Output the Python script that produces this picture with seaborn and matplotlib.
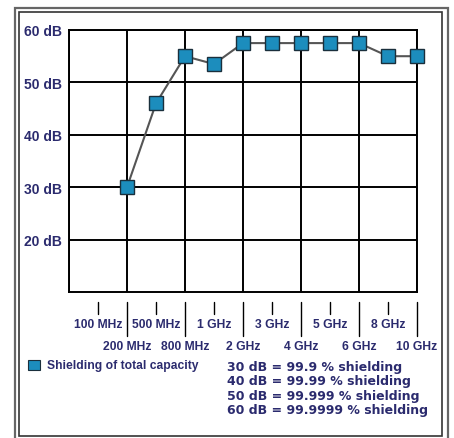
import matplotlib
matplotlib.use("Agg")
import matplotlib.pyplot as plt
import seaborn as sns
import pandas as pd
from matplotlib.patches import Rectangle

# frequency slots along the x axis (slot 0 has no label)
freq_labels = ["", "100 MHz", "200 MHz", "500 MHz", "800 MHz", "1 GHz", "2 GHz",
               "3 GHz", "4 GHz", "5 GHz", "6 GHz", "8 GHz", "10 GHz"]
# measured points: slot index and shielding in dB
point_slots = [2, 3, 4, 5, 6, 7, 8, 9, 10, 11, 12]
shielding_db = [30, 46, 55, 53.5, 57.5, 57.5, 57.5, 57.5, 57.5, 55, 55]
y_ticks = [20, 30, 40, 50, 60]
legend_label = "Shielding of total capacity"
notes = ["30 dB = 99.9 % shielding",
         "40 dB = 99.99 % shielding",
         "50 dB = 99.999 % shielding",
         "60 dB = 99.9999 % shielding"]

navy = "#2b2b6e"
marker_blue = "#1c8dbd"

sns.set_style("white")
plt.rcParams["font.family"] = ["Liberation Sans", "DejaVu Sans"]

fig = plt.figure(figsize=(4.54, 4.39), dpi=100)
ax = fig.add_axes([69 / 454, 1 - 293 / 439, (417 - 69) / 454, (293 - 31) / 439])

df = pd.DataFrame({"slot": point_slots, "db": shielding_db})
sns.lineplot(data=df, x="slot", y="db", ax=ax, color="#555555", lw=1.5,
             marker="s", markersize=9.5, markerfacecolor=marker_blue,
             markeredgecolor="#1a2f3c", markeredgewidth=1.0, zorder=5)
for ln in ax.lines:
    ln.set_clip_on(False)

ax.set_xlim(0, len(freq_labels) - 1)
ax.set_ylim(10, 60)

# grid: horizontal at dB ticks, vertical at every second slot
for v in y_ticks:
    ax.axhline(v, color="black", lw=1.4, zorder=1)
for s in range(0, len(freq_labels), 2):
    ax.axvline(s, color="black", lw=1.4, zorder=1)
for sp in ax.spines.values():
    sp.set_color("black")
    sp.set_linewidth(1.4)

ax.set_xticks([])
ax.set_yticks(y_ticks)
ax.set_yticklabels([f"{v} dB" for v in y_ticks], fontsize=10, fontweight="bold", color=navy)
ax.tick_params(axis="y", length=0, pad=5)
ax.set_xlabel("")
ax.set_ylabel("")

# staggered frequency labels with tick marks below the plot
trans = ax.get_xaxis_transform()
h = 262.0
for i, lab in enumerate(freq_labels):
    if not lab:
        continue
    if i % 2 == 1:
        ax.plot([i, i], [-10 / h, -22 / h], color="black", lw=1.0, transform=trans, clip_on=False)
        ax.text(i, -26 / h, lab, transform=trans, ha="center", va="top",
                fontsize=8.7, fontweight="bold", color=navy)
    else:
        ax.plot([i, i], [-10 / h, -44 / h], color="black", lw=1.0, transform=trans, clip_on=False)
        ax.text(i, -48 / h, lab, transform=trans, ha="center", va="top",
                fontsize=8.7, fontweight="bold", color=navy)

# legend square and text
fig.patches.append(Rectangle((28 / 454, 1 - 371 / 439), 12 / 454, 10 / 439,
                             transform=fig.transFigure, facecolor=marker_blue,
                             edgecolor="#1a2f3c", lw=0.8))
fig.text(47 / 454, 1 - 366 / 439, legend_label, ha="left", va="center",
         fontsize=8.7, fontweight="bold", color=navy)

# dB to percentage notes
for k, line in enumerate(notes):
    fig.text(227 / 454, 1 - (367 + 14.6 * k) / 439, line, ha="left", va="center",
             fontsize=9.0, fontweight="bold", color=navy, family="DejaVu Sans")

# double frame around the whole picture
fig.patches.append(Rectangle((15 / 454, -5 / 439), (448 - 15) / 454, (439 - 9 + 5) / 439,
                             transform=fig.transFigure, fill=False,
                             edgecolor="#666666", lw=1.6))
fig.patches.append(Rectangle((19 / 454, 1 - 437 / 439), (442 - 19) / 454, (437 - 13) / 439,
                             transform=fig.transFigure, fill=False,
                             edgecolor="#333333", lw=1.2))

fig.savefig("out.png", dpi=100, facecolor="white")
